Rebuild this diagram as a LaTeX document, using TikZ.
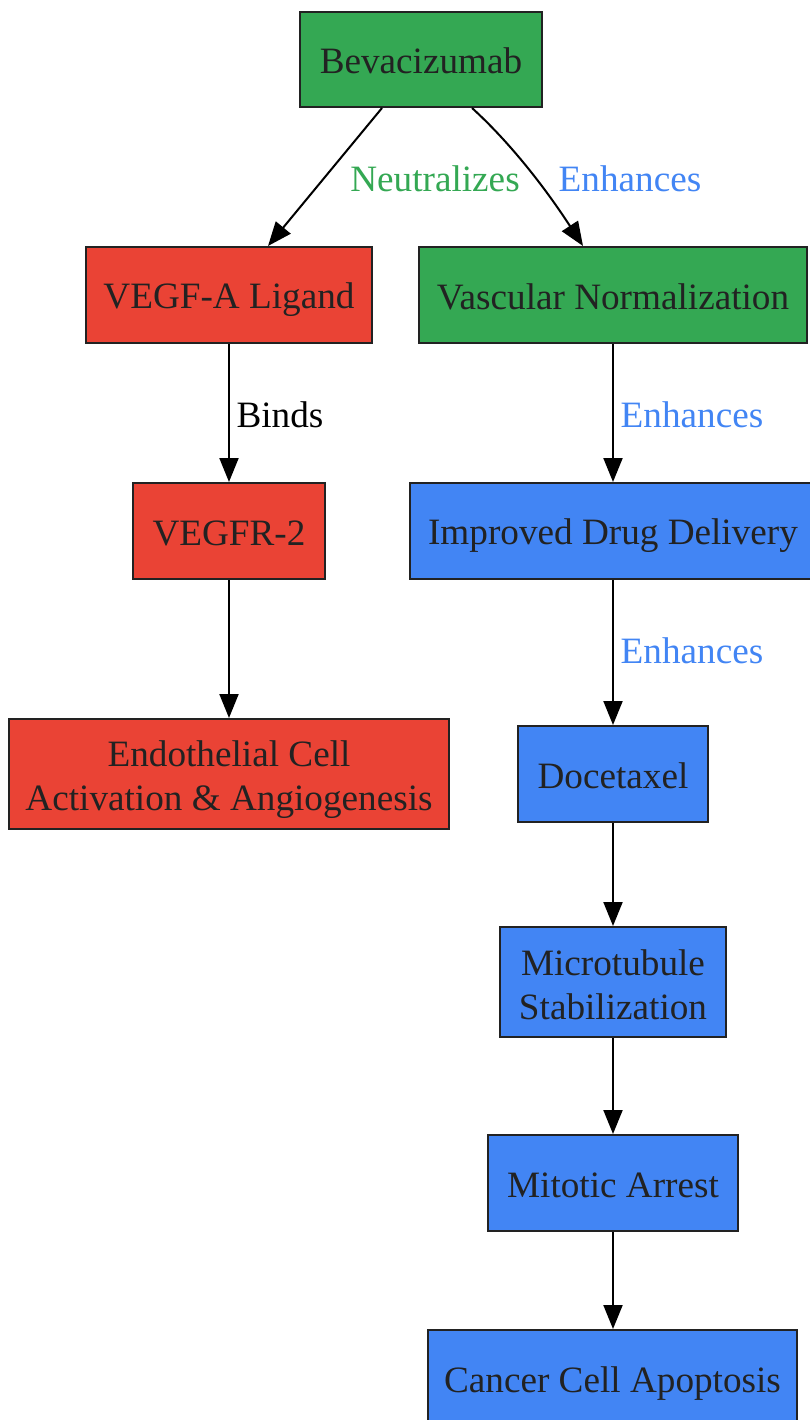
\documentclass[tikz,border=0pt]{standalone}
\usepackage{fontspec}
\setmainfont{Liberation Serif}
\usetikzlibrary{arrows.meta}
\definecolor{gfill}{HTML}{34A853}
\definecolor{rfill}{HTML}{EA4335}
\definecolor{bfill}{HTML}{4285F4}
\definecolor{ink}{HTML}{222222}
\newcommand{\topstrut}{\rule[-8pt]{0pt}{46pt}}
\newcommand{\botstrut}{\rule[-8pt]{0pt}{44pt}}
\tikzset{
  box/.style={draw=ink, line width=2pt, rectangle, inner sep=0pt, align=center, text=ink,
    font=\fontsize{37.2}{44}\selectfont},
  oneline/.style={execute at begin node={\rule[-8pt]{0pt}{44pt}}},
  gbox/.style={box, fill=gfill},
  rbox/.style={box, fill=rfill},
  bbox/.style={box, fill=bfill},
  conn/.style={-{Triangle[length=24pt,width=19pt]}, line width=2pt, black},
  lbl/.style={font=\fontsize{37.2}{44}\selectfont, inner sep=0pt},
}
\begin{document}
\begin{tikzpicture}[x=1pt,y=-1pt]
\useasboundingbox (0,0) rectangle (809,1420);
\node[gbox, oneline, minimum width=242pt, minimum height=95pt] (bev) at (421,59.5) {Bevacizumab};
\node[rbox, oneline, minimum width=286pt, minimum height=96pt] (vegfa) at (229,295) {VEGF-A Ligand};
\node[gbox, oneline, minimum width=388pt, minimum height=96pt] (vasc) at (613,295) {Vascular Normalization};
\node[rbox, oneline, minimum width=192pt, minimum height=96pt] (vegfr) at (229,531) {VEGFR-2};
\node[bbox, oneline, minimum width=406pt, minimum height=96pt] (drug) at (613,531) {Improved Drug Delivery};
\node[rbox, minimum width=440pt, minimum height=110pt] (endo) at (229,774) {\topstrut Endothelial Cell\\Activation \& Angiogenesis\botstrut};
\node[bbox, oneline, minimum width=190pt, minimum height=96pt] (doce) at (613,774) {Docetaxel};
\node[bbox, minimum width=226pt, minimum height=110pt] (micro) at (613,982) {\topstrut Microtubule\\Stabilization\botstrut};
\node[bbox, oneline, minimum width=250pt, minimum height=96pt] (mito) at (613,1183) {Mitotic Arrest};
\node[bbox, oneline, minimum width=369pt, minimum height=96pt] (apop) at (612.5,1378) {Cancer Cell Apoptosis};

\draw[conn] ([xshift=-39pt]bev.south) -- ([xshift=39pt]vegfa.north);
\node[lbl, text=gfill] (l1) at (435,179) {Neutralizes};
\draw[conn] ([xshift=51pt]bev.south) .. controls (505,138) and (540,180) .. ([xshift=-30pt]vasc.north);
\node[lbl, text=bfill] (l2) at (630,179) {Enhances};
\draw[conn] (vegfa.south) -- (vegfr.north);
\node[lbl, text=black] (l3) at (280,415) {Binds};
\draw[conn] (vasc.south) -- (drug.north);
\node[lbl, text=bfill] (l4) at (692,415) {Enhances};
\draw[conn] (vegfr.south) -- (endo.north);
\draw[conn] (drug.south) -- (doce.north);
\node[lbl, text=bfill] (l5) at (692,651) {Enhances};
\draw[conn] (doce.south) -- (micro.north);
\draw[conn] (micro.south) -- (mito.north);
\draw[conn] (mito.south) -- ([xshift=0.5pt]apop.north);
\end{tikzpicture}
\end{document}
